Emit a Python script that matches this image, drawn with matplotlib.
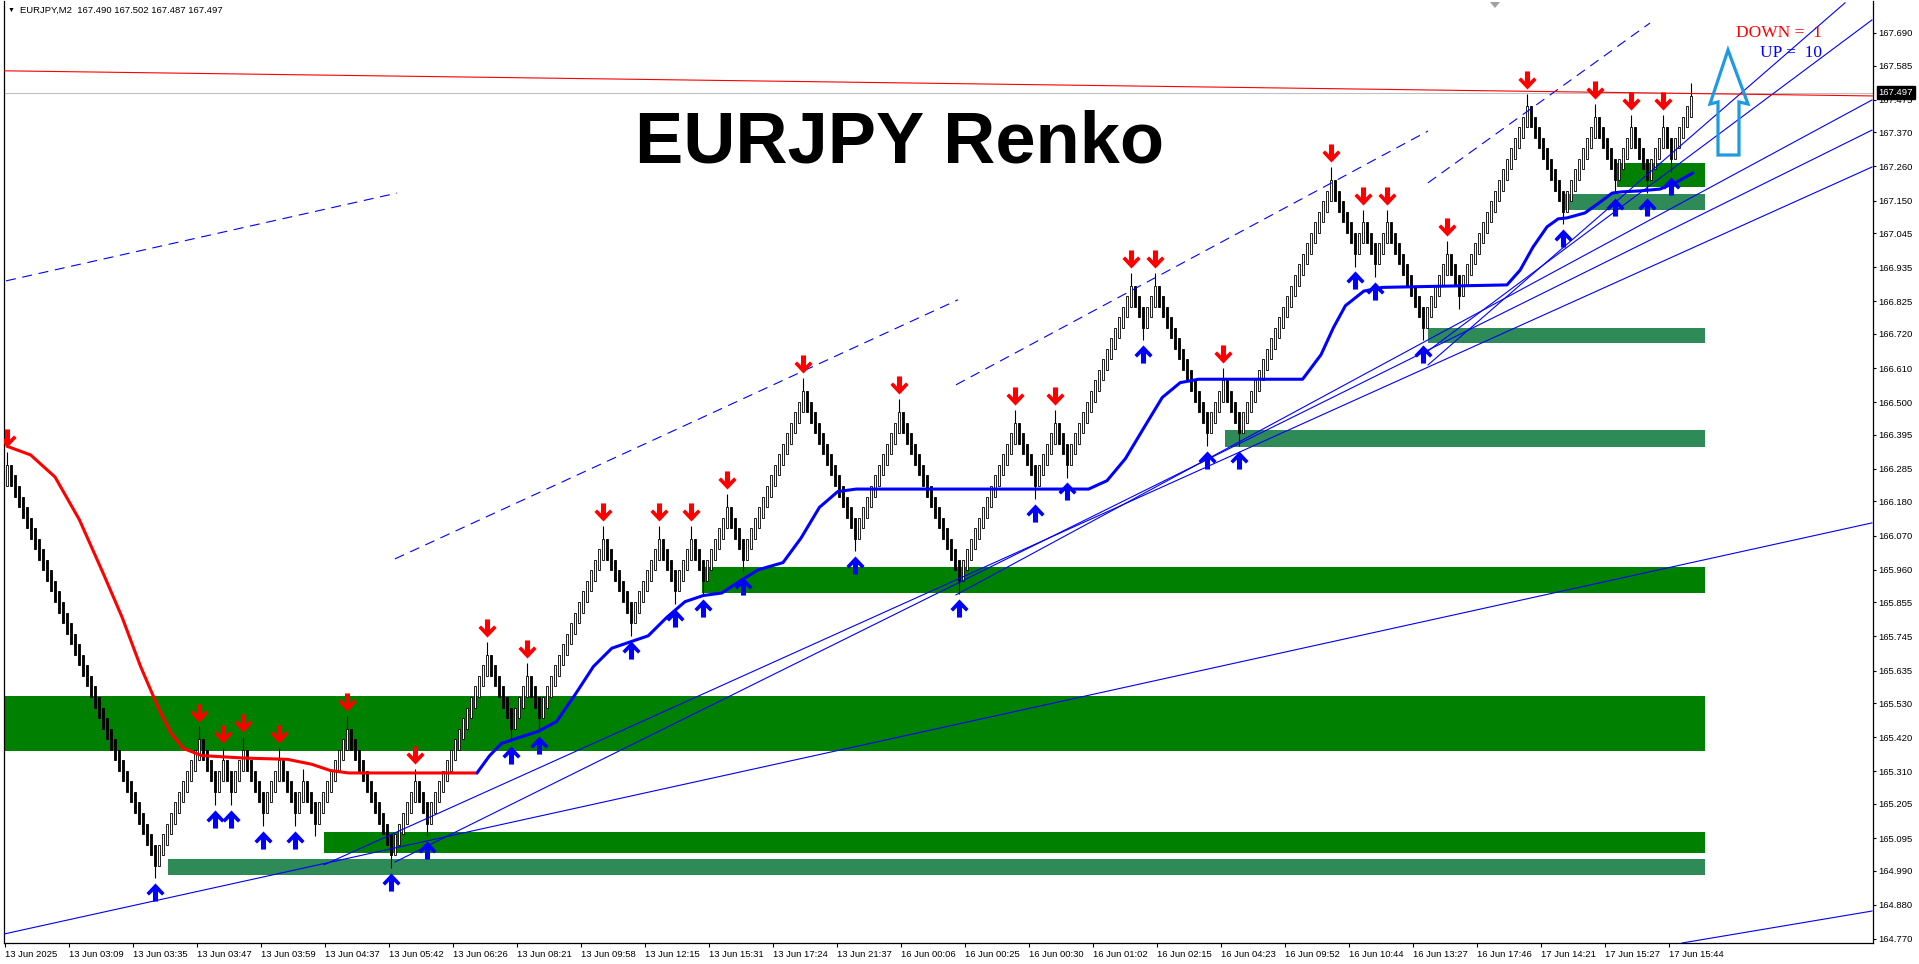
import matplotlib
matplotlib.use("Agg")
import numpy as np
import matplotlib.pyplot as plt
from matplotlib.path import Path
from matplotlib.patches import Polygon
from matplotlib.transforms import blended_transform_factory

# renko bricks: one brick per bar, signed runs of bars between swings
brick = 0.034
first_close = 166.298
runs = [-37, 11, -4, 2, -2, 3, -5, 4, -4, 2, -3, 8, -11, 6, -3, 15, -6, 4, -3, 16,
        -7, 7, -4, 4, -3, 6, -4, 15, -13, 11, -15, 14, -5, 5, -3, 16, -3, 3, -13, 4,
        -4, 23, -6, 2, -3, 3, -9, 6, -3, 17, -9, 8, -5, 4, -4, 4, -2, 5]

# swings (index into the list of swing bars) that carry a signal arrow
red_arrow_swings = [0, 2, 4, 6, 8, 12, 14, 16, 18, 20, 22, 24, 26, 28, 30, 32, 34, 36,
                    38, 40, 42, 44, 46, 48, 50, 52, 54, 56]
blue_arrow_swings = [1, 3, 5, 7, 9, 13, 15, 17, 19, 21, 23, 25, 27, 29, 31, 33, 35, 37,
                     39, 41, 43, 45, 47, 51, 53, 55, 57]

time_labels = ["13 Jun 2025", "13 Jun 03:09", "13 Jun 03:35", "13 Jun 03:47", "13 Jun 03:59",
               "13 Jun 04:37", "13 Jun 05:42", "13 Jun 06:26", "13 Jun 08:21", "13 Jun 09:58",
               "13 Jun 12:15", "13 Jun 15:31", "13 Jun 17:24", "13 Jun 21:37", "16 Jun 00:06",
               "16 Jun 00:25", "16 Jun 00:30", "16 Jun 01:02", "16 Jun 02:15", "16 Jun 04:23",
               "16 Jun 09:52", "16 Jun 10:44", "16 Jun 13:27", "16 Jun 17:46", "17 Jun 14:21",
               "17 Jun 15:27", "17 Jun 15:44"]
price_ticks = [167.690, 167.585, 167.475, 167.370, 167.260, 167.150, 167.045, 166.935,
               166.825, 166.720, 166.610, 166.500, 166.395, 166.285, 166.180, 166.070,
               165.960, 165.855, 165.745, 165.635, 165.530, 165.420, 165.310, 165.205,
               165.095, 164.990, 164.880, 164.770]

# supply / demand zones
zone_low = [165.885, 165.376, 165.047, 164.977, 166.356, 166.691, 167.120, 167.194]
zone_high = [165.969, 165.553, 165.115, 165.028, 166.410, 166.739, 167.171, 167.271]
zone_start = [173.75, -0.75, 79.25, 40.25, 304.5, 355.25, 389.5, 402.5]
zone_end = 424.5
zone_fresh = [True, True, True, False, False, False, False, True]

# trailing lines (bar, price)
red_ma_bar = [0, 5.9, 12.0, 18.1, 24.2, 28.8, 33.4, 38.0, 41.1, 44.1, 48.7, 59.4, 70.1,
              76.2, 80.8, 85.4, 117.5]
red_ma = [166.358, 166.330, 166.259, 166.121, 165.944, 165.806, 165.648, 165.510, 165.431,
          165.384, 165.361, 165.353, 165.349, 165.333, 165.313, 165.305, 165.305]
blue_ma_bar = [117.5, 120.6, 123.6, 128.2, 132.8, 137.4, 142.0, 146.6, 151.2, 155.7, 160.3,
               164.9, 169.5, 174.1, 178.7, 183.3, 187.8, 194.0, 198.5, 203.1, 207.7, 212.3,
               270.4, 275.0, 279.6, 284.2, 288.8, 293.3, 297.9, 323.9, 328.5, 331.6, 334.6,
               339.2, 343.8, 375.0, 378.3, 381.5, 385.0, 387.8, 390.0, 394.5, 398.3, 401.3,
               403.8, 408.3, 413.3, 417.5, 421.5]
blue_ma = [165.305, 165.360, 165.400, 165.420, 165.439, 165.471, 165.557, 165.648, 165.707,
           165.727, 165.747, 165.806, 165.857, 165.877, 165.885, 165.924, 165.960, 165.983,
           166.062, 166.161, 166.212, 166.220, 166.220, 166.247, 166.318, 166.417, 166.515,
           166.563, 166.574, 166.574, 166.653, 166.740, 166.811, 166.858, 166.870, 166.878,
           166.926, 167.000, 167.065, 167.091, 167.094, 167.110, 167.145, 167.174, 167.178,
           167.181, 167.187, 167.210, 167.239]

# trend lines and dashed channel lines
trend_bar0 = [-0.75, 418.75, 79.25, 97.0, 237.25, 355.25, 355.25]
trend_p0 = [164.786, 164.757, 165.009, 165.018, 165.879, 166.665, 166.620]
trend_bar1 = [466.25, 466.25, 466.25, 466.25, 466.25, 466.25, 459.5]
trend_p1 = [166.111, 164.860, 167.258, 167.377, 167.474, 167.732, 167.787]
chan_bar0 = [-0.25, 97.0, 237.25, 355.25]
chan_p0 = [166.891, 165.995, 166.556, 167.207]
chan_bar1 = [97.5, 237.75, 355.25, 410.75]
chan_p1 = [167.174, 166.830, 167.374, 167.722]
resist_bar = [-0.75, 466.5]
resist = [167.568, 167.487]

last_price = 167.497
ohlc_text = "EURJPY,M2  167.490 167.502 167.487 167.497"
down_count = 1
up_count = 10

plt.rcParams['font.family'] = ['Liberation Sans', 'DejaVu Sans']

# build the bricks
levels = [0]
dirs = [1]
swing_bar = [0]
for r in runs:
    d = 1 if r > 0 else -1
    for j in range(abs(r)):
        levels.append(levels[-1] + d * (2 if j == 0 else 1))
        dirs.append(d)
    swing_bar.append(len(levels) - 1)
levels = np.array(levels)
dirs = np.array(dirs)
close = first_close + brick * levels
open_ = close - 2 * brick * dirs
x = np.arange(len(close))
high = np.maximum(open_, close)
low = np.minimum(open_, close)
for s in swing_bar:
    if dirs[s] > 0:
        high[s] += 1.2 * brick
    else:
        low[s] -= 1.2 * brick

fig = plt.figure(figsize=(19.19, 9.64), dpi=100)
ax = fig.add_axes([4 / 1919, 1 - 943 / 964, 1869 / 1919, 942 / 964])
ax.set_xlim(-0.75, 466.5)
ax.set_ylim(164.757, 167.793)

for lo, hi, x0, fresh in zip(zone_low, zone_high, zone_start, zone_fresh):
    ax.fill_between([x0, zone_end], lo, hi, color='#008000' if fresh else '#2E8B57',
                    lw=0, zorder=1)

ax.vlines(x, low, high, color='black', lw=0.8, zorder=2)
ax.bar(x, close - open_, bottom=open_, width=0.7,
       color=np.where(dirs > 0, 'white', 'black'), edgecolor='black', linewidth=0.6, zorder=2)

for b0, p0, b1, p1 in zip(trend_bar0, trend_p0, trend_bar1, trend_p1):
    ax.plot([b0, b1], [p0, p1], color='#0000FF', lw=0.8, zorder=3)
for b0, p0, b1, p1 in zip(chan_bar0, chan_p0, chan_bar1, chan_p1):
    ax.plot([b0, b1], [p0, p1], color='#0000FF', lw=0.8, ls=(0, (9, 6)), zorder=3)
ax.plot(resist_bar, resist, color='red', lw=0.8, zorder=3)
ax.axhline(last_price, color='#C0C0C0', lw=0.8, zorder=2.5)

ax.plot(red_ma_bar, red_ma, color='red', lw=2.2, zorder=4, solid_capstyle='round')
ax.plot(blue_ma_bar, blue_ma, color='#0000FF', lw=2.2, zorder=4, solid_capstyle='round')

# signal arrows
arrow_verts = [(-0.14, 0.5), (0.14, 0.5), (0.14, -0.05), (0.36, 0.17), (0.5, 0.03),
               (0, -0.5), (-0.5, 0.03), (-0.36, 0.17), (-0.14, -0.05), (-0.14, 0.5)]
down_arrow = Path(arrow_verts, closed=True)
up_arrow = Path([(vx, -vy) for vx, vy in arrow_verts], closed=True)
rb = [swing_bar[i] for i in red_arrow_swings]
bb = [swing_bar[i] for i in blue_arrow_swings]
ax.scatter(rb, high[rb] + 0.045, marker=down_arrow, s=170, color='#FF0000', lw=0, zorder=6)
ax.scatter(bb, low[bb] - 0.045, marker=up_arrow, s=170, color='#0000FF', lw=0, zorder=6)

# axes look
ax.spines['top'].set_visible(False)
for side in ['left', 'right', 'bottom']:
    ax.spines[side].set_linewidth(0.9)
ax.yaxis.tick_right()
ax.set_yticks(price_ticks)
ax.set_yticklabels([f"{v:.3f}" for v in price_ticks])
ax.tick_params(axis='y', direction='out', length=2.5, width=0.8, pad=1.5, labelsize=6.8)
ax.set_xticks(np.arange(len(time_labels)) * 16 - 0.5)
ax.set_xticklabels(time_labels, ha='left')
ax.tick_params(axis='x', direction='out', length=3, width=0.8, pad=2, labelsize=6.8)

tr = blended_transform_factory(ax.transAxes, ax.transData)
ax.text(1.003, last_price, f"{last_price:.3f}", transform=tr, ha='left', va='center',
        color='white', fontsize=6.8, clip_on=False, zorder=10,
        bbox=dict(boxstyle='square,pad=0.2', fc='black', ec='black'))

# texts and objects on the chart
fig.text(8 / 1919, 1 - 10 / 964, "\u25bc", fontsize=5, va='center')
fig.text(20 / 1919, 1 - 10 / 964, ohlc_text, fontsize=6.8, va='center')
fig.text(900 / 1919, 1 - 162 / 964, "EURJPY Renko", ha='center', va='baseline',
         fontsize=52, fontweight='bold')
fig.text(1822 / 1919, 1 - 33 / 964, f"DOWN =  {down_count}", ha='right', va='center',
         color='red', fontsize=12.5, family='Liberation Serif')
fig.text(1822 / 1919, 1 - 53 / 964, f"UP =  {up_count}", ha='right', va='center',
         color='#0000FF', fontsize=12.5, family='Liberation Serif')

big_arrow = [(1728, 50), (1748, 104), (1739, 102), (1739, 155), (1718, 155), (1718, 102),
             (1710, 104)]
fig.add_artist(Polygon([(px / 1919, 1 - py / 964) for px, py in big_arrow], closed=True,
                       fill=False, ec='#1E9BE0', lw=2.3, joinstyle='miter',
                       transform=fig.transFigure))
fig.add_artist(Polygon([(1490 / 1919, 1 - 2 / 964), (1500 / 1919, 1 - 2 / 964),
                        (1495 / 1919, 1 - 8 / 964)], closed=True, fc='#A0A0A0', ec='none',
                       transform=fig.transFigure))

fig.savefig("out.png", dpi=100)
